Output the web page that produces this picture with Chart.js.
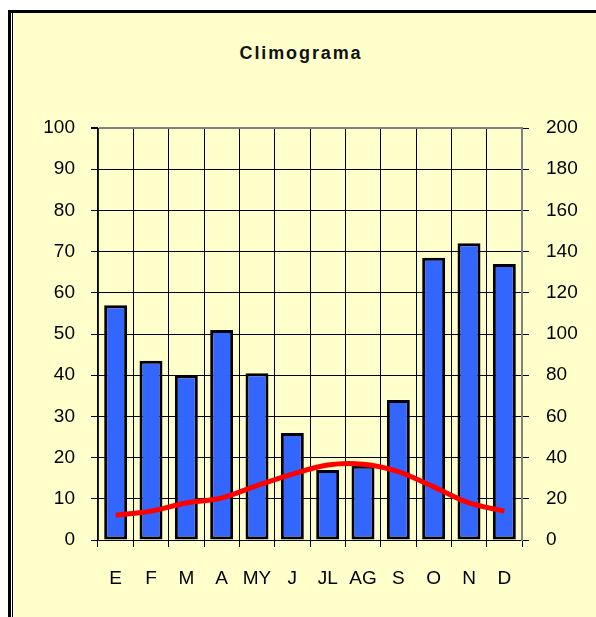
<!DOCTYPE html>
<html>
<head>
<meta charset="utf-8">
<script src="https://cdn.jsdelivr.net/npm/chart.js@4/dist/chart.umd.min.js"></script>
<style>
  html, body { margin: 0; padding: 0; background: #fff; }
  #frame { position: absolute; left: 8px; top: 10px; width: 588px; height: 607px;
           border-top: 3px solid #000; background: #fff; }
  #barL { position: absolute; left: 0; top: 0; width: 3px; height: 100%; background: #000; }
  #inner { position: absolute; left: 4px; top: 0; right: 0; bottom: 0;
           border-left: 1px solid #000; background: #FFFFCC; }
  #title { position: absolute; left: 201px; width: 200px; top: 43px; line-height: 18px; text-align: center;
           font: bold 18px "Liberation Sans", Arial, sans-serif; letter-spacing: 1.9px; color: #111; }
  #c { position: absolute; left: 0; top: 0; }
</style>
</head>
<body>
<div id="frame"><div id="barL"></div><div id="inner"></div></div>
<div id="title">Climograma</div>
<canvas id="c" width="596" height="617"></canvas>
<script>
const months = ["E", "F", "M", "A", "MY", "J", "JL", "AG", "S", "O", "N", "D"];
const precipitation = [114, 87, 80, 102, 81, 52, 34, 36, 68, 137, 144, 134];
const temperature = [6, 7, 9, 10.2, 13.2, 16, 18.2, 18.4, 16.6, 12.9, 9, 7];
const tempTicks = [0, 100, 10];
const precTicks = [0, 200, 20];

const font = { family: '"Liberation Sans", Arial, sans-serif', size: 19 };

new Chart(document.getElementById('c'), {
  data: {
    labels: months,
    datasets: [
      {
        type: 'line', data: temperature, yAxisID: 'yT', order: 0,
        borderColor: '#FF0000', borderWidth: 5, pointRadius: 0, tension: 0.3,
        fill: false
      },
      {
        type: 'bar', data: precipitation, yAxisID: 'yP', order: 1,
        backgroundColor: '#3366FF', borderColor: '#000', borderWidth: 3,
        borderSkipped: false, categoryPercentage: 1, barPercentage: 0.65
      }
    ]
  },
  options: {
    responsive: false, animation: false,
    layout: { padding: { top: 128, left: 0, right: 0, bottom: 0 } },
    plugins: { legend: { display: false }, title: { display: false }, tooltip: { enabled: false } },
    scales: {
      x: {
        grid: { offset: true, color: '#000', lineWidth: 1, tickLength: 7, tickColor: '#000' },
        border: { color: '#000', width: 1 },
        ticks: { color: '#000', font: font, padding: 20, maxRotation: 0 },
        afterFit: s => { s.height = 77; }
      },
      yT: {
        position: 'left', min: tempTicks[0], max: tempTicks[1],
        ticks: { stepSize: tempTicks[2], color: '#000', font: font, padding: 16 },
        grid: { color: c => (c.tick && c.tick.value === 100 ? '#808080' : '#000'),
                lineWidth: c => (c.tick && c.tick.value === 100 ? 2 : 1),
                tickLength: 7, tickColor: '#000' },
        border: { color: '#222', width: 1 },
        afterFit: s => { s.width = 98; }
      },
      yP: {
        position: 'right', min: precTicks[0], max: precTicks[1],
        ticks: { stepSize: precTicks[2], color: '#000', font: font, padding: 17 },
        grid: { drawOnChartArea: false, tickLength: 7, tickColor: '#000' },
        border: { color: '#808080', width: 2 },
        afterFit: s => { s.width = 74; }
      }
    }
  }
});
</script>
</body>
</html>
